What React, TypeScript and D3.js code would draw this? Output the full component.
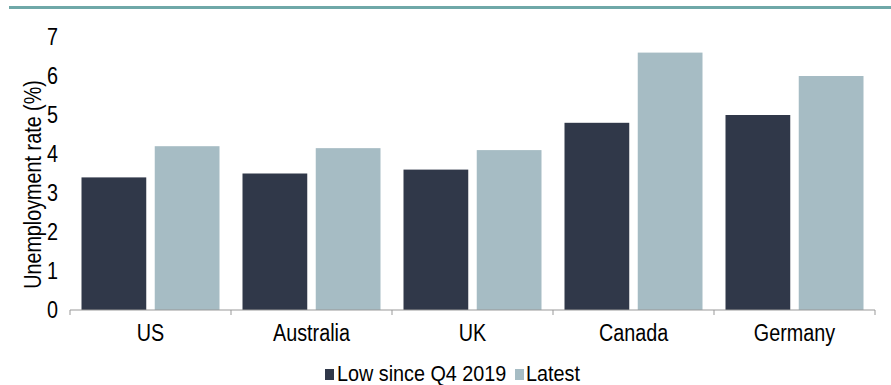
import React from "react";
import * as d3 from "d3";

const categories = ["US", "Australia", "UK", "Canada", "Germany"];
const lowSince2019 = [3.4, 3.5, 3.6, 4.8, 5.0];
const latest = [4.2, 4.15, 4.1, 6.6, 6.0];
const seriesNames = ["Low since Q4 2019", "Latest"];
const yTicks = [0, 1, 2, 3, 4, 5, 6, 7];

const colors = ["#303849", "#a6bcc4"];
const font = "'Liberation Sans', Arial, sans-serif";
const FS = 23;
const SX = 0.86;

function T(props: { x: number; y: number; anchor?: string; rotate?: number; dy?: string; fs?: number; sx?: number; children: React.ReactNode }) {
  const { x, y, anchor = "start", rotate = 0, dy, fs = FS, sx = SX } = props;
  return (
    <text transform={`translate(${x},${y}) rotate(${rotate}) scale(${sx},1)`} dy={dy} textAnchor={anchor}
      fontFamily={font} fontSize={fs} fill="#000">{props.children}</text>
  );
}

export default function App() {
  const W = 891, H = 385;
  const left = 70, right = 875, top = 37, bottom = 310;
  const x = d3.scaleBand<string>().domain(categories).range([left, right]).paddingInner(0).paddingOuter(0);
  const y = d3.scaleLinear().domain([0, 7]).range([bottom, top]);
  const bw = x.bandwidth();
  const inner = d3.scaleBand<number>().domain([0, 1]).range([11.5, bw - 11.5]).paddingInner(8 / 69);
  const series = [lowSince2019, latest];

  return (
    <svg width={W} height={H} style={{ position: "absolute", left: 0, top: 0, background: "#fff" }}>
      <rect x={9} y={6} width={882} height={3} fill="#6fa8a8" />
      {series.map((vals, si) =>
        vals.map((v, i) => (
          <rect key={`${si}-${i}`} x={(x(categories[i]) as number) + (inner(si) as number)} y={y(v)}
            width={inner.bandwidth()} height={y(0) - y(v)} fill={colors[si]} />
        ))
      )}
      <line x1={left} x2={right} y1={bottom} y2={bottom} stroke="#999" strokeWidth={1} />
      {categories.map((c, i) => (
        <line key={"t" + i} x1={(x(c) as number)} x2={(x(c) as number)} y1={bottom} y2={bottom + 5} stroke="#999" />
      ))}
      <line x1={right} x2={right} y1={bottom} y2={bottom + 5} stroke="#999" />
      {yTicks.map(t => (
        <T key={"y" + t} x={58} y={y(t)} dy="0.35em" anchor="end">{t}</T>
      ))}
      {categories.map(c => (
        <T key={"x" + c} x={(x(c) as number) + bw / 2} y={341} anchor="middle">{c}</T>
      ))}
      <T x={41} y={(top + bottom) / 2 + 11} rotate={-90} anchor="middle">Unemployment rate (%)</T>
      <rect x={325} y={369} width={9} height={11} fill={colors[0]} />
      <T x={337} y={381} fs={22} sx={0.9}>{seriesNames[0]}</T>
      <rect x={515} y={369} width={9} height={11} fill={colors[1]} />
      <T x={526} y={381} fs={22} sx={0.9}>{seriesNames[1]}</T>
    </svg>
  );
}
